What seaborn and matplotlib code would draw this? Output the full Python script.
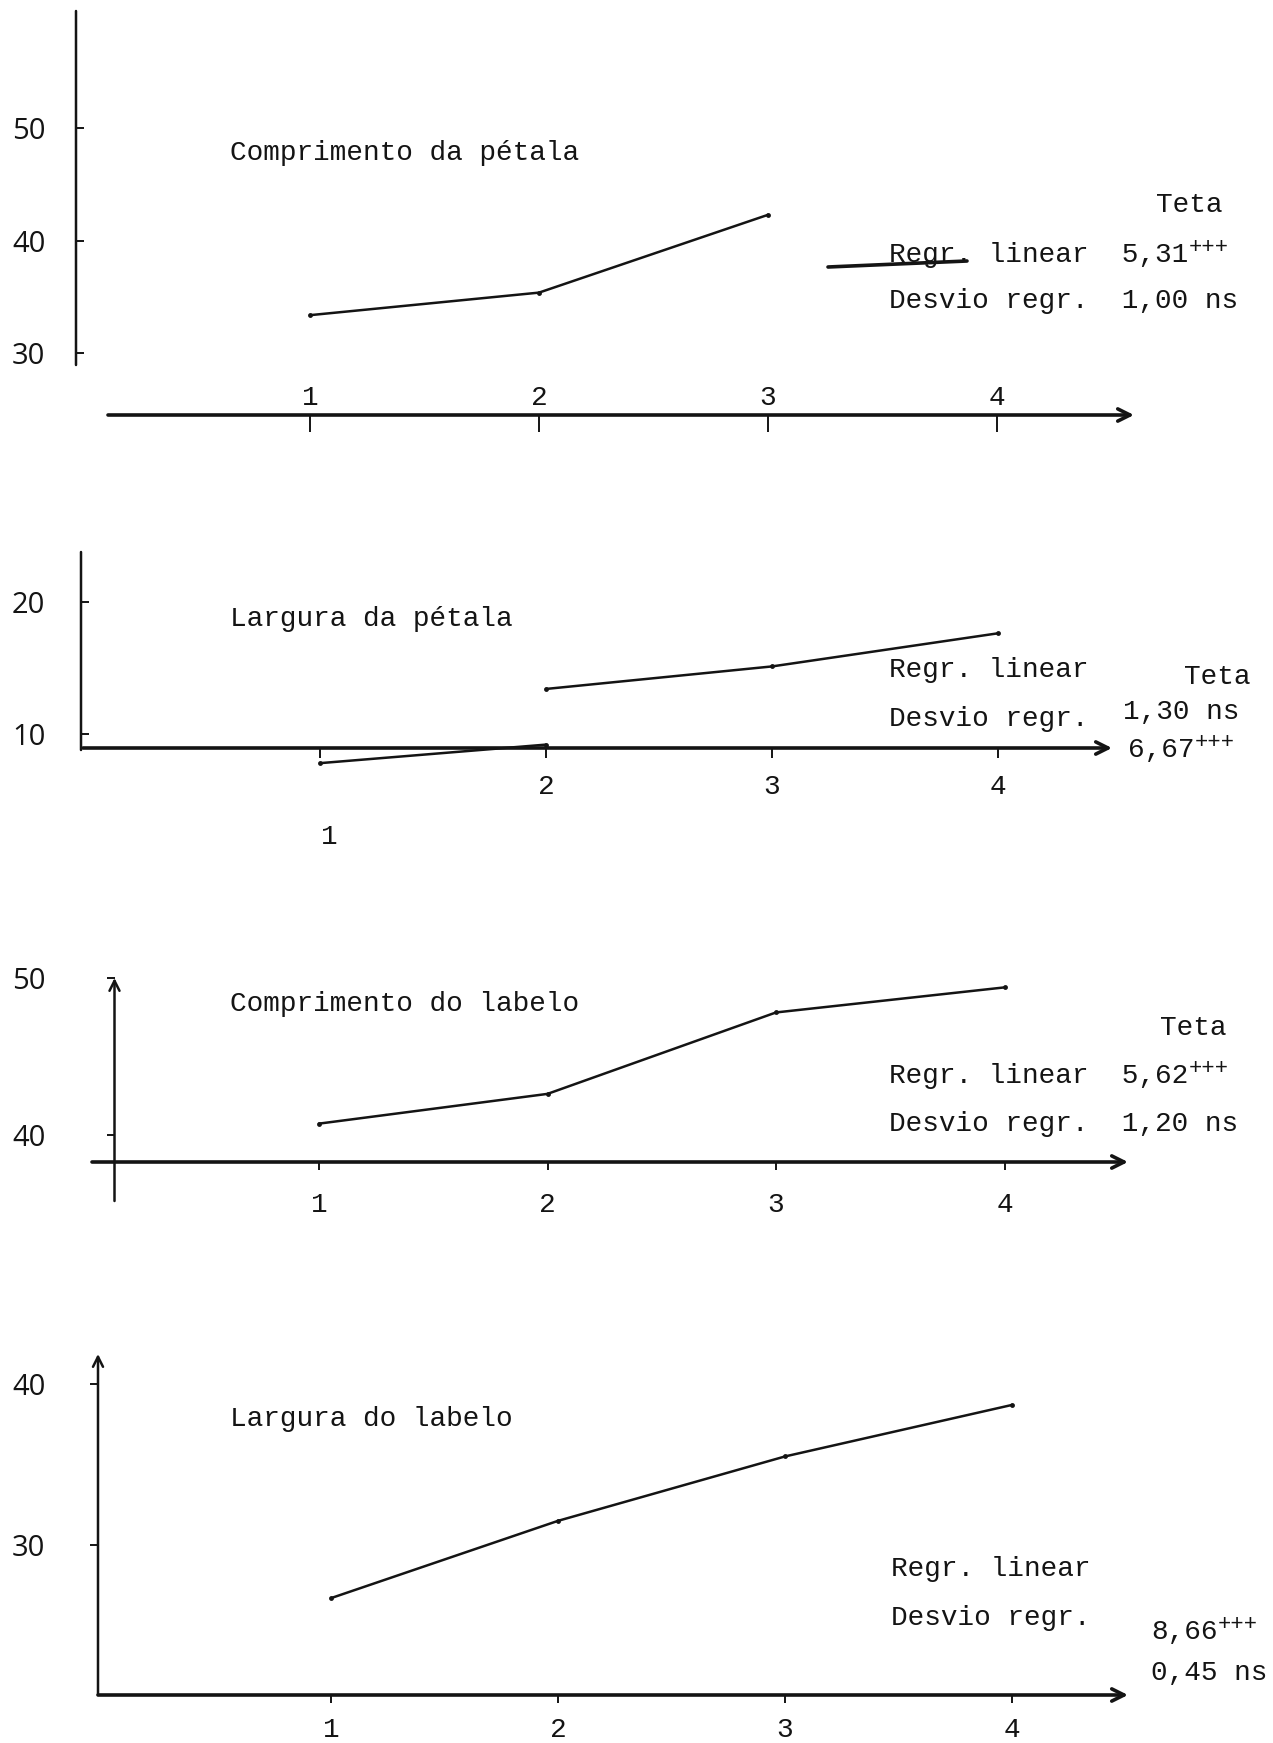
import matplotlib.pyplot as plt
import seaborn as sns

W, H = 1273, 1743
INK = "#141414"

# ---- values ----
steps = [1, 2, 3, 4]
step_labels = ["1", "2", "3", "4"]

comp_petala_x = [1, 2, 3]
comp_petala = [33.4, 35.4, 42.3]
comp_petala_ticks = [30, 40, 50]

# the drawn line of this panel is broken in two pieces on the page
larg_petala_xa = [1, 2]
larg_petala_a = [7.8, 9.2]
larg_petala_xb = [2, 3, 4]
larg_petala_b = [13.4, 15.1, 17.6]
larg_petala_ticks = [10, 20]

comp_labelo = [40.7, 42.6, 47.8, 49.4]
comp_labelo_ticks = [40, 50]

larg_labelo = [26.7, 31.5, 35.5, 38.7]
larg_labelo_ticks = [30, 40]

titles = ["Comprimento da pétala", "Largura da pétala",
          "Comprimento do labelo", "Largura do labelo"]

sns.set_theme(style="white")
plt.rcParams["font.family"] = ["Liberation Mono", "DejaVu Sans Mono"]
plt.rcParams["text.color"] = INK

fig = plt.figure(figsize=(W / 100, H / 100), dpi=100)
fig.patch.set_facecolor("white")


def make_panel(box, yaxis, yref, x1_px, spacing, xaxis_from, ticks,
               ytick_dir, xtick_len, xlab_pad, ylab_arrow):
    left, top, right, bottom = box
    ax = fig.add_axes([left / W, 1 - bottom / H, (right - left) / W, (bottom - top) / H])
    ax.set_facecolor("none")

    (v_hi, p_hi), (v_lo, p_lo) = yref
    scale = (p_lo - p_hi) / (v_hi - v_lo)
    ax.set_ylim(v_lo - (bottom - p_lo) / scale, v_hi + (p_hi - top) / scale)
    ax.set_xlim(1 - (x1_px - left) / spacing, 1 + (right - x1_px) / spacing)

    def fxa(px):
        return (px - left) / (right - left)

    def fya(py):
        return (bottom - py) / (bottom - top)

    for s in ax.spines.values():
        s.set_visible(False)
    yx, ytop, ybot = yaxis
    ax.spines["left"].set_position(("axes", fxa(yx)))

    # axes drawn as arrows, like on the page
    ax.annotate("", xy=(1, 0), xytext=(fxa(xaxis_from), 0), xycoords="axes fraction",
                arrowprops=dict(arrowstyle="->", lw=2.6, color=INK, shrinkA=0,
                                shrinkB=0, mutation_scale=22),
                annotation_clip=False)
    ax.annotate("", xy=(fxa(yx), fya(ytop)), xytext=(fxa(yx), fya(ybot)),
                xycoords="axes fraction",
                arrowprops=dict(arrowstyle="->" if ylab_arrow else "-", lw=1.8,
                                color=INK, shrinkA=0, shrinkB=0, mutation_scale=18),
                annotation_clip=False)

    ax.set_xticks(steps, step_labels)
    ax.set_yticks(ticks, [str(t) for t in ticks])
    ax.tick_params(axis="x", bottom=True, direction="out", length=xtick_len * 0.72,
                   width=1.4, color=INK, labelsize=20, labelcolor=INK,
                   pad=xlab_pad * 0.72)
    ylen = 8
    out = ylen if ytick_dir == "out" else 0
    ax.tick_params(axis="y", left=True, direction=ytick_dir, length=ylen * 0.72,
                   width=1.4, color=INK, labelcolor=INK,
                   pad=(yx - out - 12) * 0.72)
    for lab in ax.get_yticklabels():
        lab.set_fontfamily(["Open Sans", "DejaVu Sans"])
        lab.set_fontsize(21)
        lab.set_ha("left")
    ax.set_xlabel("")
    ax.set_ylabel("")
    return ax


def line(ax, xs, ys):
    sns.lineplot(x=xs, y=ys, ax=ax, color=INK, lw=1.8, marker="o", markersize=3.5,
                 markeredgewidth=0, clip_on=False)


def put(ax, s, x, y, size=20, ha="left"):
    return ax.annotate(s, xy=(x, H - y), xycoords="figure pixels", fontsize=size,
                       ha=ha, va="center", color=INK, annotation_clip=False)


def sup(ax, t):
    ax.annotate("+++", xy=(1, 1), xycoords=t, xytext=(0, -4), textcoords="offset points",
                fontsize=16, ha="left", va="center", color=INK, annotation_clip=False)


# ---- panel 1: comprimento da petala ----
ax1 = make_panel(box=(76, 11, 1134, 415), yaxis=(76, 11, 365),
                 yref=((50, 128), (30, 353.5)), x1_px=310, spacing=229,
                 xaxis_from=108, ticks=comp_petala_ticks, ytick_dir="in",
                 xtick_len=17, xlab_pad=-47, ylab_arrow=False)
line(ax1, comp_petala_x, comp_petala)
put(ax1, titles[0], 230, 153)
put(ax1, "Teta", 1156, 205)
t = put(ax1, "Regr. linear  5,31", 889, 255)
sup(ax1, t)
put(ax1, "Desvio regr.  1,00 ns", 889, 301)
ax1.annotate("", xy=(967, H - 261), xytext=(828, H - 267), xycoords="figure pixels",
             arrowprops=dict(arrowstyle="-", lw=2.6, color=INK, shrinkA=0, shrinkB=0),
             annotation_clip=False)

# ---- panel 2: largura da petala ----
ax2 = make_panel(box=(81, 552, 1112, 748), yaxis=(81, 552, 750),
                 yref=((20, 601.5), (10, 734)), x1_px=320, spacing=226,
                 xaxis_from=83, ticks=larg_petala_ticks, ytick_dir="in",
                 xtick_len=10, xlab_pad=16, ylab_arrow=False)
line(ax2, larg_petala_xa, larg_petala_a)
line(ax2, larg_petala_xb, larg_petala_b)
ax2.set_xticks(steps, [""] + step_labels[1:])
ax2.annotate(step_labels[0], xy=(1, 0), xycoords=("data", "axes fraction"),
             xytext=(7, -64), textcoords="offset points", fontsize=20,
             ha="center", va="center", color=INK, annotation_clip=False)
put(ax2, titles[1], 230, 619)
put(ax2, "Regr. linear", 889, 670)
put(ax2, "Teta", 1184, 677)
put(ax2, "Desvio regr.", 889, 719)
# on the page these two values are typed over each other
put(ax2, "1,30 ns", 1123, 712)
t = put(ax2, "6,67", 1128, 750)
sup(ax2, t)

# ---- panel 3: comprimento do labelo ----
ax3 = make_panel(box=(92, 978, 1128, 1162), yaxis=(114.5, 978, 1201),
                 yref=((50, 974), (40, 1134)), x1_px=319, spacing=228.5,
                 xaxis_from=92, ticks=comp_labelo_ticks, ytick_dir="out",
                 xtick_len=8, xlab_pad=22, ylab_arrow=True)
line(ax3, steps, comp_labelo)
put(ax3, titles[2], 230, 1004)
put(ax3, "Teta", 1160, 1028)
t = put(ax3, "Regr. linear  5,62", 889, 1076)
sup(ax3, t)
put(ax3, "Desvio regr.  1,20 ns", 889, 1124)

# ---- panel 4: largura do labelo ----
ax4 = make_panel(box=(98, 1354, 1128, 1695), yaxis=(98, 1354, 1695),
                 yref=((40, 1384), (30, 1545)), x1_px=331, spacing=227,
                 xaxis_from=98, ticks=larg_labelo_ticks, ytick_dir="out",
                 xtick_len=8, xlab_pad=14, ylab_arrow=True)
line(ax4, steps, larg_labelo)
put(ax4, titles[3], 230, 1419)
put(ax4, "Regr. linear", 891, 1569)
put(ax4, "Desvio regr.", 891, 1618)
t = put(ax4, "8,66", 1151, 1632)
sup(ax4, t)
put(ax4, "0,45 ns", 1151, 1673)

fig.savefig("out.png", dpi=100, facecolor="white")
